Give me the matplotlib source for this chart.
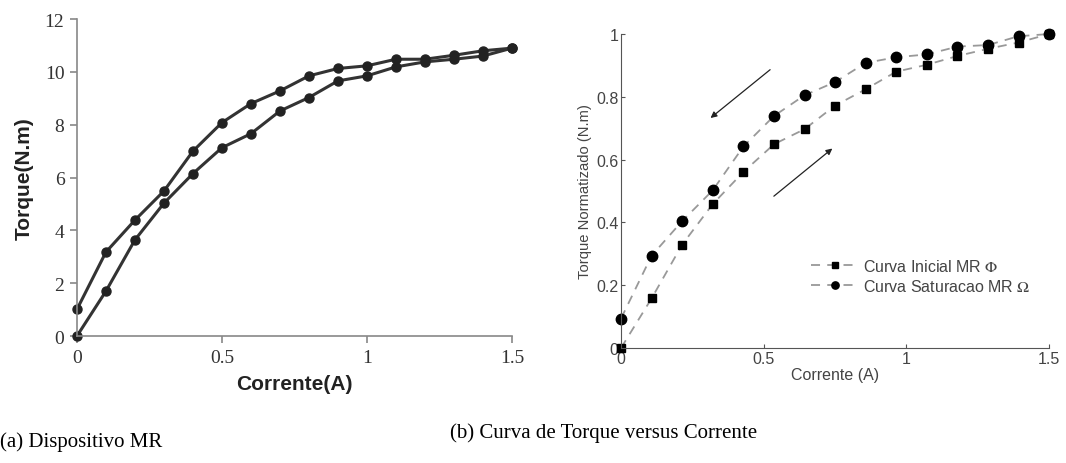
import matplotlib.pyplot as plt
import numpy as np

# (a) torque x current, measured loop
corrente_a = [0.0, 0.1, 0.2, 0.3, 0.4, 0.5, 0.6, 0.7, 0.8, 0.9, 1.0, 1.1, 1.2, 1.3, 1.4, 1.5]
torque_desc = [1.01, 3.18, 4.39, 5.49, 7.0, 8.08, 8.8, 9.28, 9.85, 10.13, 10.23, 10.48, 10.48, 10.63, 10.8, 10.9]
torque_asc = [0.0, 1.7, 3.64, 5.03, 6.15, 7.13, 7.66, 8.52, 9.03, 9.66, 9.85, 10.19, 10.38, 10.48, 10.6, 10.9]

# (b) normalized torque
corrente_b = [0.0, 0.107, 0.214, 0.321, 0.429, 0.536, 0.643, 0.75, 0.857, 0.964, 1.071, 1.179, 1.286, 1.393, 1.5]
curva_inicial = [0.0, 0.158, 0.329, 0.458, 0.561, 0.649, 0.697, 0.772, 0.824, 0.88, 0.902, 0.93, 0.953, 0.973, 1.0]
curva_saturacao = [0.094, 0.294, 0.404, 0.502, 0.642, 0.739, 0.805, 0.847, 0.908, 0.926, 0.935, 0.96, 0.965, 0.993, 1.0]

plt.rcParams['mathtext.fontset'] = 'stix'

fig = plt.figure(figsize=(10.66, 4.64), dpi=100)

# ---- left panel
ax1 = fig.add_axes([0.0722, 0.2737, 0.408, 0.683])
for y in (torque_desc, torque_asc):
    ax1.plot(corrente_a, y, color='#333333', lw=2.2, marker='o', ms=6.5,
             mfc='#222222', mec='#222222', clip_on=False)
ax1.set_xlim(0, 1.5)
ax1.set_ylim(0, 12)
ax1.set_xticks([0, 0.5, 1, 1.5])
ax1.set_xticklabels(['0', '0.5', '1', '1.5'])
ax1.set_yticks(range(0, 13, 2))
for s in ('top', 'right'):
    ax1.spines[s].set_visible(False)
for s in ('left', 'bottom'):
    ax1.spines[s].set_color('#888888')
    ax1.spines[s].set_linewidth(1.2)
ax1.tick_params(direction='out', length=5, color='#888888', width=1.2,
                labelsize=14, labelcolor='#333333', pad=4)
for lab in ax1.get_xticklabels() + ax1.get_yticklabels():
    lab.set_family('Liberation Serif')
ax1.set_xlabel('Corrente(A)', fontsize=15, fontweight='bold', family='Liberation Sans',
               color='#222222', labelpad=6)
ax1.set_ylabel('Torque(N.m)', fontsize=15, fontweight='bold', family='Liberation Sans',
               color='#222222', labelpad=8)

# ---- right panel
ax2 = fig.add_axes([0.5826, 0.2478, 0.4015, 0.6767])
ax2.plot(corrente_b, curva_inicial, ls=(0, (5, 4)), color='#999999', lw=1.3,
         marker='s', ms=6, mfc='black', mec='black', clip_on=False,
         label=r'Curva Inicial MR $\Phi$')
ax2.plot(corrente_b, curva_saturacao, ls=(0, (5, 4)), color='#999999', lw=1.3,
         marker='o', ms=7.5, mfc='black', mec='black', clip_on=False,
         label=r'Curva Saturacao MR $\Omega$')
ax2.set_xlim(0, 1.5)
ax2.set_ylim(0, 1)
ax2.set_xticks([0, 0.5, 1, 1.5])
ax2.set_xticklabels(['0', '0.5', '1', '1.5'])
ax2.set_yticks([0, 0.2, 0.4, 0.6, 0.8, 1])
ax2.set_yticklabels(['0', '0.2', '0.4', '0.6', '0.8', '1'])
for s in ('top', 'right'):
    ax2.spines[s].set_visible(False)
for s in ('left', 'bottom'):
    ax2.spines[s].set_color('#555555')
ax2.tick_params(direction='in', length=3, color='#555555', labelsize=11.5,
                labelcolor='#444444', pad=2)
for lab in ax2.get_xticklabels() + ax2.get_yticklabels():
    lab.set_family('Liberation Sans')
ax2.set_xlabel('Corrente (A)', fontsize=11.5, family='Liberation Sans', color='#444444', labelpad=1)
ax2.set_ylabel('Torque Normatizado (N.m)', fontsize=10.6, family='Liberation Sans',
               color='#444444', labelpad=3)

ax2.annotate('', xy=(0.306, 0.727), xytext=(0.530, 0.892),
             arrowprops=dict(arrowstyle='-|>', color='#222222', lw=0.9, mutation_scale=9))
ax2.annotate('', xy=(0.748, 0.641), xytext=(0.528, 0.478),
             arrowprops=dict(arrowstyle='-|>', color='#222222', lw=0.9, mutation_scale=9))

leg = ax2.legend(loc='lower left', bbox_to_anchor=(0.43, 0.153), frameon=False,
                 prop={'family': 'Liberation Sans', 'size': 11.5}, labelcolor='#444444',
                 handlelength=3.0, handletextpad=0.2, labelspacing=0.25, borderaxespad=0,
                 markerscale=0.7)

fig.text(0.0, 0.047, '(a) Dispositivo MR', fontsize=15, family='Liberation Serif',
         va='center', ha='left')
fig.text(0.422, 0.067, '(b) Curva de Torque versus Corrente', fontsize=15,
         family='Liberation Serif', va='center', ha='left')

fig.savefig('out.png', dpi=100)
